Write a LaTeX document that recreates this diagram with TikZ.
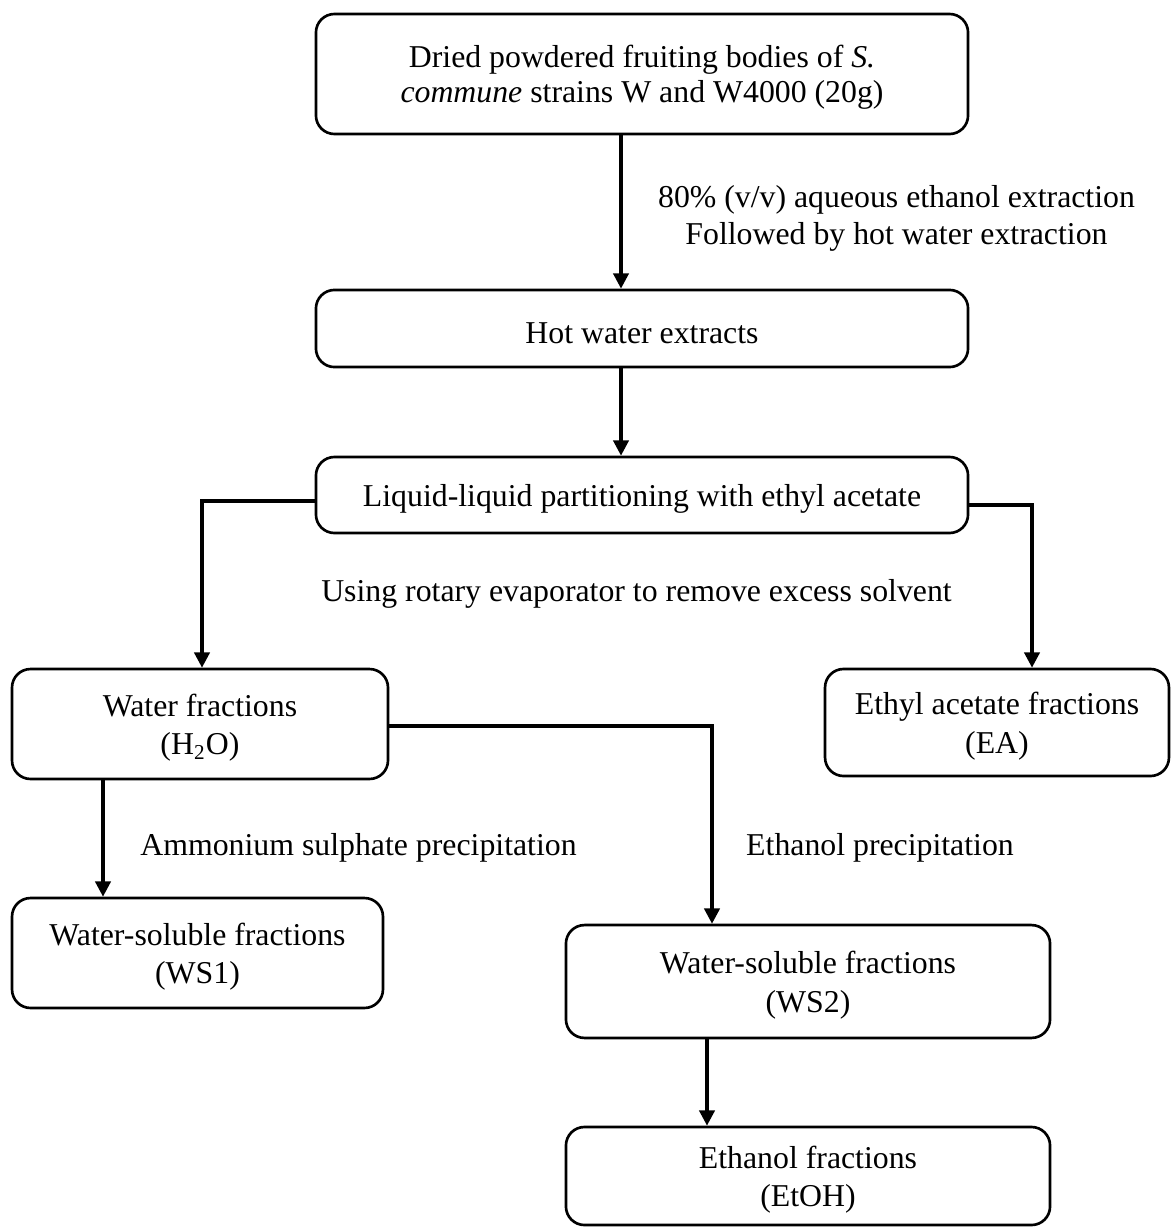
\documentclass[tikz,border=0pt]{standalone}
\usepackage{fontspec}
\setmainfont{Liberation Serif}
\usetikzlibrary{arrows.meta}
\newcommand{\dn}{\rule{0pt}{11.2pt}}
\begin{document}
\begin{tikzpicture}[x=0.3774pt,y=-0.3774pt,
  box/.style={draw=black, line width=1pt, rounded corners=7pt, fill=white,
    align=center, inner sep=0pt, font=\fontsize{12pt}{14.5pt}\selectfont},
  lbl/.style={align=center, inner sep=0pt, font=\fontsize{12pt}{14pt}\selectfont},
  conn/.style={line width=1.25pt, -{Triangle[length=5.8pt,width=5.8pt]}}]
\useasboundingbox (0,0) rectangle (1171,1228);
\fill[white] (0,0) rectangle (1171,1228);
% boxes
\node[box, minimum width=246.1pt, minimum height=45.3pt, font=\fontsize{12pt}{13.2pt}\selectfont] (b1) at (642,74)
  {\dn Dried powdered fruiting bodies of \textit{S.}\\\textit{commune} strains W and W4000 (20g)};
\node[box, minimum width=246.1pt, minimum height=29.1pt] (b2) at (642,328.5) {\dn Hot water extracts};
\node[box, minimum width=246.1pt, minimum height=28.7pt] (b3) at (642,495) {\dn Liquid-liquid partitioning with ethyl acetate};
\node[box, minimum width=141.9pt, minimum height=41.5pt] (b4) at (200,724) {\dn Water fractions\\(H\textsubscript{2}O)};
\node[box, minimum width=129.8pt, minimum height=40.4pt] (b5) at (997,722.5) {\dn Ethyl acetate fractions\\(EA)};
\node[box, minimum width=140pt, minimum height=41.5pt] (b6) at (197.5,953) {\dn Water-soluble fractions\\(WS1)};
\node[box, minimum width=182.7pt, minimum height=42.6pt] (b7) at (808,981.5) {\dn Water-soluble fractions\\(WS2)};
\node[box, minimum width=182.7pt, minimum height=37pt] (b8) at (808,1176) {\dn Ethanol fractions\\(EtOH)};
% labels
\node[lbl] (l1) at (896.5,218) {80\% (v/v) aqueous ethanol extraction\\Followed by hot water extraction};
\node[lbl] (l2) at (636.5,594) {Using rotary evaporator to remove excess solvent};
\node[lbl] (l3) at (358.5,848) {Ammonium sulphate precipitation};
\node[lbl] (l4) at (880,848) {Ethanol precipitation};
% helper coordinates
\coordinate (x1) at (621,0);
\coordinate (cL) at (202,501);
\coordinate (cR) at (1032,505);
\coordinate (x4) at (103,0);
\coordinate (cM) at (712,726);
\coordinate (x7) at (707,0);
% connectors
\draw[conn] (b1.south -| x1) -- (b2.north -| x1);
\draw[conn] (b2.south -| x1) -- (b3.north -| x1);
\draw[conn] (b3.west |- cL) -- (cL) -- (b4.north -| cL);
\draw[conn] (b3.east |- cR) -- (cR) -- (b5.north -| cR);
\draw[conn] (b4.south -| x4) -- (b6.north -| x4);
\draw[conn] (b4.east |- cM) -- (cM) -- (b7.north -| cM);
\draw[conn] (b7.south -| x7) -- (b8.north -| x7);
\end{tikzpicture}
\end{document}
